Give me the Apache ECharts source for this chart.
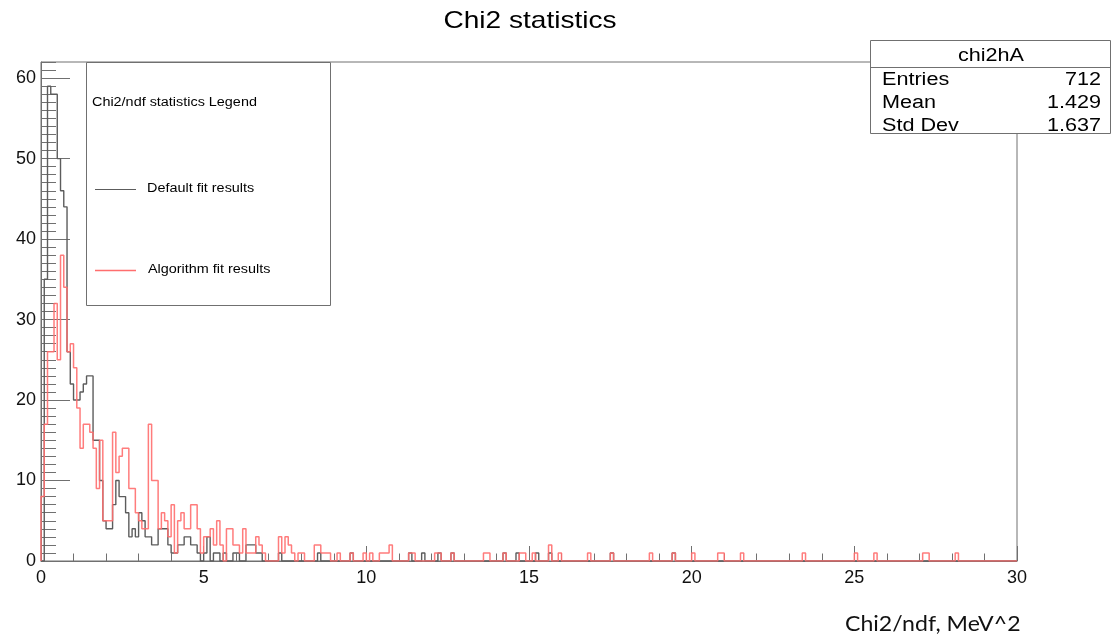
<!DOCTYPE html>
<html>
<head>
<meta charset="utf-8">
<script src="https://cdn.jsdelivr.net/npm/echarts@6/dist/echarts.min.js"></script>
<style>
html,body{margin:0;padding:0;background:#fff;}
#chart{width:1118px;height:641px;}
</style>
</head>
<body>
<div id="chart"></div>
<script>
// ---- data (histogram: 300 bins of width 0.1 between 0 and 30) ----
const binWidth = 0.1;
const xRange = [0, 30];
const yRange = [0, 62];
const xTickStep = 5;
const yTickStep = 10;

// "Default fit results" (grey)
const defaultCounts = [
  0,35,59,58,58,50,46,44,26,22,20,20,21,22,23,23,15,15,10,5,
  4,4,7,10,8,8,6,3,4,3,6,5,3,3,2,2,4,4,4,2,
  1,1,2,2,3,3,2,2,1,0,1,3,0,1,1,0,1,0,0,1,
  1,0,0,2,2,2,1,1,0,0,0,0,0,1,0,0,0,0,0,0,
  0,0,0,0,0,1,0,0,0,0,0,0,0,0,0,1,0,0,0,0,
  0,0,0,0,0,0,0,0,0,0,0,0,0,1,0,0,0,1,0,0,
  0,0,1,0,0,0,1,0,0,0,0,0,0,0,0,0,0,0,0,0,
  0,0,1,0,0,0,1,0,0,0,0,0,1,0,0,0,1,0,0,0,
  0,0,0,0,0,0,0,0,0,0,0,0,0,0,0,1,0,0,0,0,
  0,0,0,0,0,0,0,0,0,0,0,0,0,0,1,0,0,0,0,0,
  0,0,0,0,0,0,0,0,0,0,0,0,0,0,0,0,0,0,0,0,
  0,0,0,0,0,0,0,0,0,0,0,0,0,0,0,0,0,0,0,0,
  0,0,0,0,0,0,0,0,0,0,0,0,0,0,0,0,0,0,0,0,
  0,0,0,0,0,0,0,0,0,0,0,0,0,0,0,0,0,0,0,0,
  0,0,0,0,0,0,0,0,0,0,0,0,0,0,0,0,0,0,0,0
];

// "Algorithm fit results" (red)
const algorithmCounts = [
  8,17,26,26,32,25,38,34,26,27,24,19,14,17,17,16,14,9,15,5,
  5,5,16,11,13,14,14,9,9,6,5,4,4,17,10,10,4,6,5,3,
  7,1,5,6,4,4,7,7,4,1,3,3,4,2,5,2,0,4,4,2,
  2,1,4,1,1,1,3,2,1,0,0,0,0,3,1,3,2,1,0,1,
  1,0,0,0,2,2,1,1,1,0,0,1,0,0,0,1,0,0,0,1,
  0,1,0,0,1,1,1,2,0,0,0,0,0,1,1,0,0,0,0,0,
  0,1,1,0,0,0,1,0,0,0,0,0,0,0,0,0,1,1,0,0,
  0,0,1,0,0,0,0,1,1,0,0,1,0,0,0,0,2,0,0,1,
  0,0,0,0,0,0,0,0,1,0,0,0,0,0,0,1,0,0,0,0,
  0,0,0,0,0,0,0,1,0,0,0,0,0,0,1,0,0,0,0,0,
  1,0,0,0,0,0,0,0,1,1,0,0,0,0,0,1,0,0,0,0,
  0,0,0,0,0,0,0,0,0,0,0,0,0,0,1,0,0,0,0,0,
  0,0,0,0,0,0,0,0,0,0,1,0,0,0,0,0,1,0,0,0,
  0,0,0,0,0,0,0,0,0,0,0,1,1,0,0,0,0,0,0,0,
  0,1,0,0,0,0,0,0,0,0,0,0,0,0,0,0,0,0,0,0
];

const titleText = 'Chi2 statistics';
const xAxisTitle = 'Chi2/ndf, MeV^2';
const legendTitle = 'Chi2/ndf statistics Legend';
const seriesNames = ['Default fit results', 'Algorithm fit results'];
const statsName = 'chi2hA';
const statsLabels = ['Entries', 'Mean', 'Std Dev'];
const statsValues = ['712', '1.429', '1.637'];

// ---- build step outlines from bin counts ----
function histPoints(counts) {
  const pts = [[xRange[0], 0]];
  counts.forEach((c, i) => pts.push([+(xRange[0] + i * binWidth).toFixed(4), c]));
  pts.push([xRange[1], counts[counts.length - 1]]);
  pts.push([xRange[1], 0]);
  return pts;
}

const GREY = '#5c5c5c';
const RED = '#ff6e6e';
const FRAME = '#707070';
const ROOTFONT = '"Liberation Sans", Arial, sans-serif';
const STRETCH = 1.2; // the reference text is horizontally stretched

const chart = echarts.init(document.getElementById('chart'), null, {renderer: 'canvas'});

function txt(x, y, text, size, align, extra) {
  return Object.assign({
    type: 'text', z: 12, x: x, y: y, scaleX: STRETCH,
    style: {text: text, font: size + 'px ' + ROOTFONT, fill: '#000',
            align: align || 'left', verticalAlign: 'middle'}
  }, extra || {});
}

const option = {
  animation: false,
  backgroundColor: '#fff',
  grid: {
    left: 41, right: 101, top: 62, bottom: 80,
    show: true, borderColor: FRAME, borderWidth: 1, backgroundColor: 'transparent',
    containLabel: false, outerBoundsMode: 'none'
  },
  xAxis: {
    type: 'value', min: xRange[0], max: xRange[1], interval: xTickStep,
    axisLine: {show: true, lineStyle: {color: FRAME, width: 1}},
    axisTick: {show: true, inside: true, length: 15, lineStyle: {color: FRAME, width: 1}},
    minorTick: {show: true, splitNumber: 5, length: 7.5, lineStyle: {color: FRAME, width: 1}},
    splitLine: {show: false}, minorSplitLine: {show: false},
    axisLabel: {color: '#111', fontSize: 18, fontFamily: ROOTFONT, margin: 8}
  },
  yAxis: [
    {
      type: 'value', min: yRange[0], max: yRange[1], interval: yTickStep,
      axisLine: {show: true, lineStyle: {color: FRAME, width: 1}},
      axisTick: {show: true, inside: true, length: 29, lineStyle: {color: FRAME, width: 1}},
      splitLine: {show: false},
      axisLabel: {color: '#111', fontSize: 18, fontFamily: ROOTFONT, margin: 5, showMaxLabel: false}
    },
    {
      type: 'value', min: yRange[0], max: yRange[1], interval: 1, position: 'left',
      axisLine: {show: false},
      axisTick: {show: true, inside: true, length: 15, lineStyle: {color: FRAME, width: 1}},
      splitLine: {show: false},
      axisLabel: {show: false}
    }
  ],
  series: [
    {
      name: seriesNames[0], type: 'line', step: 'end', yAxisIndex: 0,
      data: histPoints(defaultCounts), symbol: 'none', clip: true,
      lineStyle: {color: GREY, width: 1.4}, z: 3
    },
    {
      name: seriesNames[1], type: 'line', step: 'end', yAxisIndex: 0,
      data: histPoints(algorithmCounts), symbol: 'none', clip: true,
      lineStyle: {color: RED, width: 1.5, opacity: 0.9}, z: 4
    }
  ],
  graphic: [
    // title
    txt(530, 21, titleText, 24, 'center', {scaleX: 1.17}),
    // x axis title
    {type: 'text', z: 12, x: 845, y: 624, scaleX: 1.1,
     style: {text: xAxisTitle, font: '21px Lato, "Open Sans", sans-serif', fill: '#111', verticalAlign: 'middle'}},
    // legend box
    {type: 'rect', z: 10, shape: {x: 86.5, y: 62.5, width: 244, height: 243},
     style: {fill: '#fff', stroke: FRAME, lineWidth: 1}},
    txt(92, 103, legendTitle, 12),
    {type: 'line', z: 11, shape: {x1: 95, y1: 189.5, x2: 136, y2: 189.5},
     style: {stroke: GREY, lineWidth: 1}},
    txt(147, 189, seriesNames[0], 12),
    {type: 'line', z: 11, shape: {x1: 95, y1: 270.5, x2: 136, y2: 270.5},
     style: {stroke: RED, lineWidth: 1.4}},
    txt(148, 270, seriesNames[1], 12),
    // stats box
    {type: 'rect', z: 10, shape: {x: 870.5, y: 40.5, width: 240, height: 93},
     style: {fill: '#fff', stroke: FRAME, lineWidth: 1}},
    {type: 'line', z: 11, shape: {x1: 870.5, y1: 67.5, x2: 1110.5, y2: 67.5},
     style: {stroke: FRAME, lineWidth: 1}},
    txt(991, 56, statsName, 18, 'center'),
    ...statsLabels.map((t, k) => txt(882, 80 + k * 23, t, 18, 'left')),
    ...statsValues.map((t, k) => txt(1101, 80 + k * 23, t, 18, 'right'))
  ]
};
chart.setOption(option);
</script>
</body>
</html>
